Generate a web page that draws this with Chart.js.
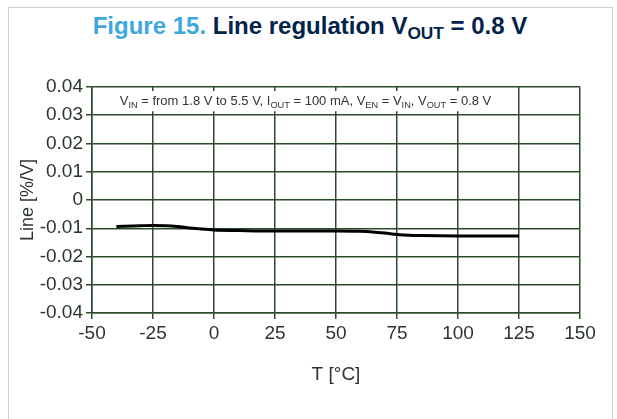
<!DOCTYPE html>
<html>
<head>
<meta charset="utf-8">
<script src="https://cdn.jsdelivr.net/npm/chart.js@4.4.1/dist/chart.umd.min.js"></script>
<style>
  body { margin: 0; background: #fff; }
  #wrap { position: relative; width: 617px; height: 419px; overflow: hidden; font-family: "Liberation Sans", Arial, sans-serif; }
  #frame { position: absolute; left: 8px; top: 7px; width: 603px; height: 430px; border: 1.5px solid #c9d1dc; }
  #title { position: absolute; left: 8px; top: 14px; width: 604px; text-align: center; font-size: 24px; line-height: 24px; font-weight: bold; color: #03234b; white-space: nowrap; }
  #title .fig { color: #3ea8dc; }
  #title sub { font-size: 0.72em; vertical-align: -0.28em; line-height: 0; }
  canvas { position: absolute; left: 0; top: 0; }
</style>
</head>
<body>
<div id="wrap">
  <div id="frame"></div>
  <div id="title"><span class="fig">Figure 15.</span> Line regulation V<sub>OUT</sub> = 0.8 V</div>
  <canvas id="chart" width="617" height="419"></canvas>
</div>
<script>
// ================= DATA =================
const temps = [-40, -30, -25, -20, -15, -10, -5, 0, 10, 25, 50, 60, 65, 70, 75, 80, 85, 100, 125];
const lineReg = [-0.0094, -0.0091, -0.0090, -0.0091, -0.0094, -0.0099, -0.0103, -0.0106, -0.0108, -0.0110, -0.0110, -0.0111, -0.0113, -0.0117, -0.0122, -0.0125, -0.0126, -0.0127, -0.0127];
const xTicks = [-50, -25, 0, 25, 50, 75, 100, 125, 150];
const yTicks = [-0.04, -0.03, -0.02, -0.01, 0, 0.01, 0.02, 0.03, 0.04];

// condition text, [text, isSubscript]
const noteParts = [
  ["V", 0], ["IN", 1], [" = from 1.8 V to 5.5 V, I", 0], ["OUT", 1],
  [" = 100 mA, V", 0], ["EN", 1], [" = V", 0], ["IN", 1],
  [", V", 0], ["OUT", 1], [" = 0.8 V", 0]
];

const gridColor = "#2d4a2d";
const textColor = "#2b362b";
const fontFamily = "'Liberation Sans', Arial, sans-serif";

// ================= NOTE BOX PLUGIN =================
const noteBox = {
  id: "noteBox",
  beforeDatasetsDraw(chart) {
    const { ctx, scales: { x, y } } = chart;
    const left = x.getPixelForValue(-50), right = x.getPixelForValue(125);
    const top = y.getPixelForValue(0.04), bottom = y.getPixelForValue(0.03);
    ctx.save();
    ctx.fillStyle = "#fff";
    ctx.fillRect(left + 2, top + 4, right - left - 4, bottom - top - 8);

    const mainFont = `13px ${fontFamily}`;
    const subFont = `9.2px ${fontFamily}`;
    let total = 0;
    noteParts.forEach(([t, s]) => {
      ctx.font = s ? subFont : mainFont;
      total += ctx.measureText(t).width;
    });
    let cx = (left + right) / 2 - total / 2;
    const base = (top + bottom) / 2 + 4;
    ctx.fillStyle = "#333";
    ctx.textBaseline = "alphabetic";
    noteParts.forEach(([t, s]) => {
      ctx.font = s ? subFont : mainFont;
      ctx.fillText(t, cx, s ? base + 2.5 : base);
      cx += ctx.measureText(t).width;
    });
    ctx.restore();
  }
};

// ================= CHART =================
new Chart(document.getElementById("chart"), {
  type: "line",
  data: {
    datasets: [{
      data: temps.map((t, i) => ({ x: t, y: lineReg[i] })),
      borderColor: "#000",
      borderWidth: 3,
      pointRadius: 0,
      cubicInterpolationMode: "monotone",
      fill: false
    }]
  },
  options: {
    responsive: false,
    animation: false,
    layout: { padding: { top: 87, right: 37, left: 0, bottom: 0 } },
    plugins: { legend: { display: false }, tooltip: { enabled: false } },
    scales: {
      x: {
        type: "linear",
        min: -50,
        max: 150,
        afterBuildTicks: s => { s.ticks = xTicks.map(v => ({ value: v })); },
        afterFit: s => { s.height = 106; },
        grid: { color: gridColor, lineWidth: 1.5, tickLength: 6 },
        border: { color: gridColor, width: 1.5 },
        ticks: { color: textColor, padding: 3, maxRotation: 0, font: { family: fontFamily, size: 19 } },
        title: { display: true, text: "T [°C]", color: textColor, font: { family: fontFamily, size: 19 }, padding: { bottom: 33 } }
      },
      y: {
        min: -0.04,
        max: 0.04,
        afterBuildTicks: s => { s.ticks = yTicks.map(v => ({ value: v })); },
        afterFit: s => { s.width = 92; },
        grid: { color: gridColor, lineWidth: 1.5, tickLength: 6 },
        border: { color: gridColor, width: 1.5 },
        ticks: {
          color: textColor,
          padding: 3,
          font: { family: fontFamily, size: 19 },
          callback: v => String(Number(v.toFixed(2)))
        },
        title: { display: true, text: "Line [%/V]", color: textColor, font: { family: fontFamily, size: 18 }, padding: { top: 17 } }
      }
    }
  },
  plugins: [noteBox]
});
</script>
</body>
</html>
